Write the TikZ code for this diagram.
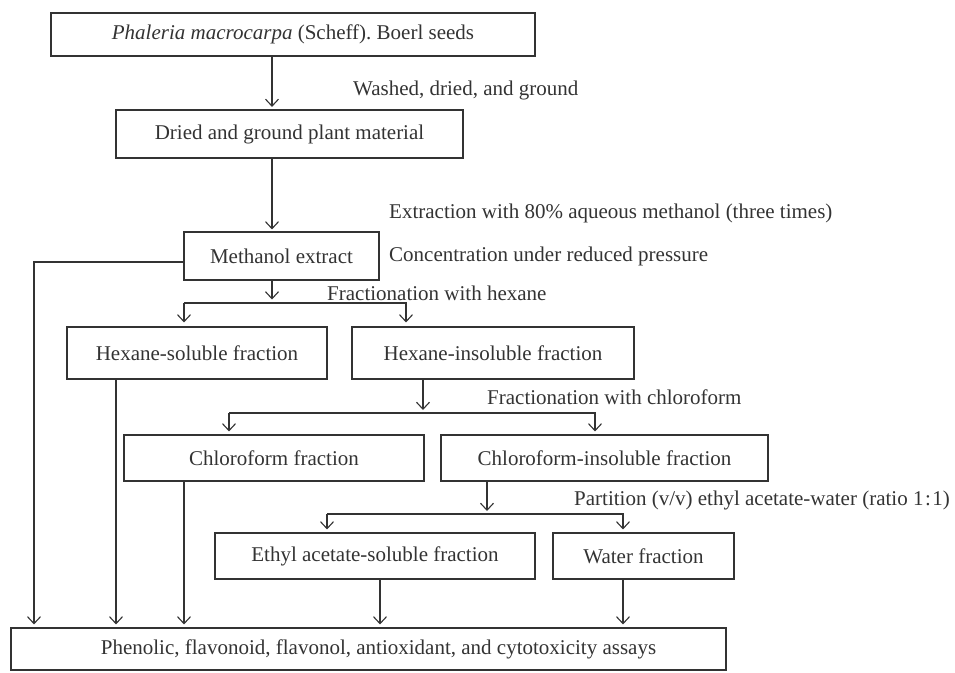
\documentclass[tikz,border=0pt]{standalone}
\usepackage{fontspec}
\setmainfont{Liberation Serif}
\usetikzlibrary{arrows.meta}
\definecolor{ink}{HTML}{333333}
\tikzset{
  box/.style={draw=ink, line width=1.1pt, inner sep=0pt, text=ink, font=\fontsize{21}{26}\selectfont},
  lbl/.style={anchor=west, inner sep=0pt, text=ink, font=\fontsize{21}{26}\selectfont},
  conn/.style={draw=ink, line width=1.1pt},
  arr/.style={conn, -{Straight Barb[length=7pt,width=13pt,line width=1.1pt]}},
}
\begin{document}
\begin{tikzpicture}[x=1pt,y=-1pt]
\useasboundingbox (0,0) rectangle (955,672);
% boxes
\node[box, minimum width=484pt, minimum height=43pt] (b1) at (293,34.5) {\textit{Phaleria macrocarpa} (Scheff).\ Boerl seeds};
\node[box, minimum width=347pt, minimum height=48pt] (b2) at (289.5,134) {Dried and ground plant material};
\node[box, minimum width=195pt, minimum height=48pt] (b3) at (281.5,256) {Methanol extract};
\node[box, minimum width=260pt, minimum height=52pt] (hs) at (197,353) {Hexane-soluble fraction};
\node[box, minimum width=282pt, minimum height=52pt] (hi) at (493,353) {Hexane-insoluble fraction};
\node[box, minimum width=300pt, minimum height=46pt] (cf) at (274,458) {Chloroform fraction};
\node[box, minimum width=327pt, minimum height=46pt] (ci) at (604.5,458) {Chloroform-insoluble fraction};
\node[box, minimum width=320pt, minimum height=46pt] (ea) at (375,556) {Ethyl acetate-soluble fraction};
\node[box, minimum width=181pt, minimum height=46pt] (wf) at (643.5,556) {Water fraction};
\node[box, minimum width=715pt, minimum height=42pt] (fin) at (368.5,649) {\hspace*{20pt}Phenolic, flavonoid, flavonol, antioxidant, and cytotoxicity assays};
% labels
\node[lbl] (l1) at (353,90) {Washed, dried, and ground};
\node[lbl] (l2) at (389,213) {Extraction with 80\% aqueous methanol (three times)};
\node[lbl] (l3) at (389,256) {Concentration under reduced pressure};
\node[lbl] (l4) at (327,293) {Fractionation with hexane};
\node[lbl] (l5) at (487,397) {Fractionation with chloroform};
\node[lbl] (l6) at (574,500) {Partition (v/v) ethyl acetate-water (ratio 1\hspace{1.5pt}:\hspace{1.5pt}1)};
% coordinates
\coordinate (x1) at (272,0);
\coordinate (m1) at (34,262);
\coordinate (s1L) at (184,303);
\coordinate (s1R) at (406,303);
\coordinate (s2L) at (229,413);
\coordinate (s2R) at (595,413);
\coordinate (x2) at (423,0);
\coordinate (s3L) at (327,514);
\coordinate (s3R) at (623,514);
\coordinate (x3) at (487,0);
\coordinate (xh) at (116,0);
\coordinate (xc) at (184,0);
\coordinate (xe) at (380,0);
% connectors
\draw[arr, shorten >=2.5pt] (b1.south -| x1) -- (b2.north -| x1);
\draw[arr, shorten >=2pt] (b2.south -| x1) -- (b3.north -| x1);
\draw[arr, shorten >=3.5pt] (b3.south -| x1) -- (s1L -| x1);
\draw[arr, shorten >=4pt] (s1L) -- (s1L |- hs.north);
\draw[arr, shorten >=4pt] (s1L) -- (s1R) -- (s1R |- hi.north);
\draw[arr, shorten >=3pt] (b3.west |- m1) -- (m1) -- (m1 |- fin.north);
\draw[arr, shorten >=3pt] (hs.south -| xh) -- (fin.north -| xh);
\draw[arr, shorten >=3pt] (hi.south -| x2) -- (s2L -| x2);
\draw[arr, shorten >=3pt] (s2L) -- (s2L |- cf.north);
\draw[arr, shorten >=3pt] (s2L) -- (s2R) -- (s2R |- ci.north);
\draw[arr, shorten >=3pt] (cf.south -| xc) -- (fin.north -| xc);
\draw[arr, shorten >=3pt] (ci.south -| x3) -- (s3L -| x3);
\draw[arr, shorten >=3pt] (s3L) -- (s3L |- ea.north);
\draw[arr, shorten >=3pt] (s3L) -- (s3R) -- (s3R |- wf.north);
\draw[arr, shorten >=3pt] (ea.south -| xe) -- (fin.north -| xe);
\draw[arr, shorten >=3pt] (wf.south -| s3R) -- (fin.north -| s3R);
\end{tikzpicture}
\end{document}
